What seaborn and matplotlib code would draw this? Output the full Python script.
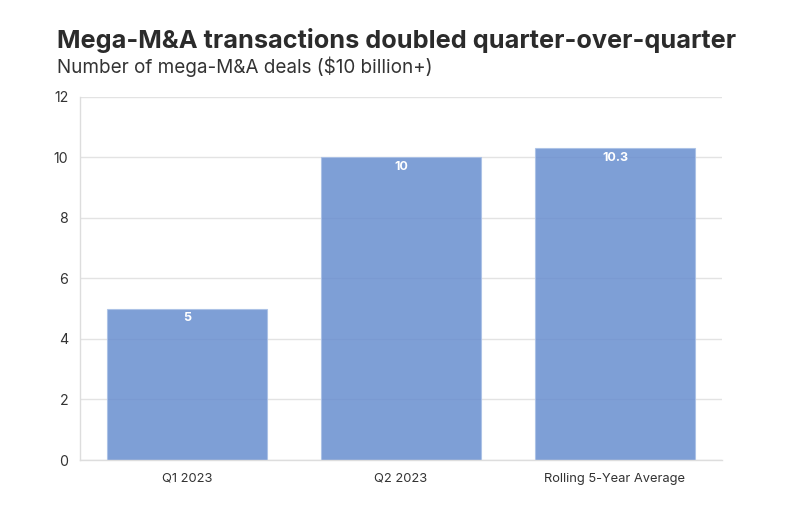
import matplotlib
matplotlib.use("Agg")
import matplotlib.pyplot as plt
import seaborn as sns
import pandas as pd

categories = ["Q1 2023", "Q2 2023", "Rolling 5-Year Average"]
deals = [5, 10, 10.3]
labels = ["5", "10", "10.3"]

sns.set_theme(style="white")
plt.rcParams['font.family'] = ['Inter', 'DejaVu Sans']

df = pd.DataFrame({"category": categories, "deals": deals})

fig = plt.figure(figsize=(8, 5.11), dpi=100)
ax = fig.add_axes([0.1, 0.0998, 0.8025, 0.7104])

sns.barplot(data=df, x="category", y="deals", color="#688ecf", alpha=0.85,
            width=0.75, saturation=1, edgecolor="#a9c0e6", linewidth=0.8, ax=ax, zorder=2)

for p, lab in zip(ax.patches, labels):
    ax.text(p.get_x() + p.get_width() / 2, p.get_height() - 0.32, lab,
            ha="center", va="center", color="white", fontsize=9, fontweight="bold", zorder=3)

ax.set_ylim(0, 12)
ax.set_xlim(-0.5, 2.5)
ax.set_yticks([0, 2, 4, 6, 8, 10, 12])
ax.yaxis.grid(True, color="#e3e3e3", linewidth=1, zorder=0)
ax.set_axisbelow(True)
ax.set_xlabel("")
ax.set_ylabel("")
for s in ["top", "right"]:
    ax.spines[s].set_visible(False)
for s in ["left", "bottom"]:
    ax.spines[s].set_color("#dddddd")
    ax.spines[s].set_linewidth(1)
ax.tick_params(axis="both", colors="#dddddd", labelcolor="#333333", labelsize=9.3, length=5, width=1)
ax.tick_params(axis="y", labelsize=10.2)
ax.tick_params(axis="x", pad=4)

fig.text(0.071, 0.907, "Mega-M&A transactions doubled quarter-over-quarter",
         fontsize=18.2, fontweight="bold", color="#2b2b2b", va="baseline")
fig.text(0.071, 0.857, "Number of mega-M&A deals ($10 billion+)",
         fontsize=13.6, color="#333333", va="baseline")

fig.savefig("out.png", dpi=100)
